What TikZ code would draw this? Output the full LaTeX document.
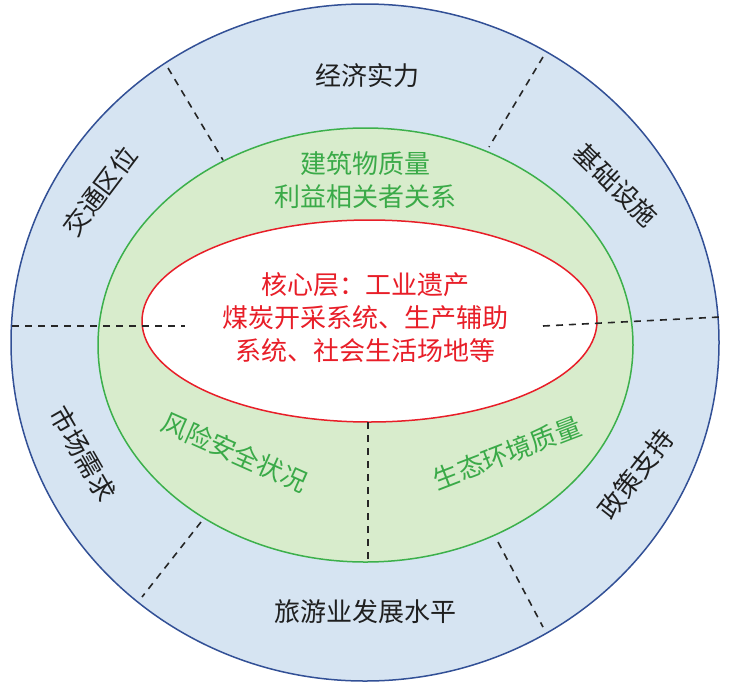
\documentclass[tikz,border=0pt]{standalone}
\usepackage{fontspec}
\setmainfont{Noto Sans CJK SC}
\definecolor{ringblue}{RGB}{214,228,242}
\definecolor{lineblue}{RGB}{50,80,150}
\definecolor{ringgreen}{RGB}{216,236,204}
\definecolor{linegreen}{RGB}{60,176,75}
\definecolor{txtgreen}{RGB}{58,170,72}
\definecolor{linered}{RGB}{232,30,40}
\begin{document}
\begin{tikzpicture}[x=1pt,y=-1pt]
    \useasboundingbox (0,0) rectangle (730,694);
    \tikzstyle{every node}=[font=\fontsize{26}{33}\selectfont,inner sep=0pt]
    \tikzstyle{cut}=[draw=black!85,line width=1.6pt,dash pattern=on 7pt off 6pt]
    \tikzstyle{outer}=[text=black!88]
    \tikzstyle{middle}=[text=txtgreen]

    % layers
    \filldraw[fill=ringblue,draw=lineblue,line width=1.5pt] (365,342.5) ellipse [x radius=354pt, y radius=338.5pt];
    \filldraw[fill=ringgreen,draw=linegreen,line width=1.5pt] (365.5,345) ellipse [x radius=267.5pt, y radius=217pt];
    \filldraw[fill=white,draw=linered,line width=1.5pt] (369.5,321) ellipse [x radius=227.5pt, y radius=101pt];

    % end points of the cuts
    \coordinate (l1) at (12,326);   \coordinate (l2) at (185,326);
    \coordinate (r1) at (543,326);  \coordinate (r2) at (720,317);
    \coordinate (v1) at (368,422);  \coordinate (v2) at (368,562);
    \coordinate (ul1) at (168,68);  \coordinate (ul2) at (223,160);
    \coordinate (ur1) at (543,57);  \coordinate (ur2) at (489,147);
    \coordinate (dl1) at (201,522); \coordinate (dl2) at (142,597);
    \coordinate (dr1) at (498,542); \coordinate (dr2) at (543,627);
    \foreach \a in {l,r,v,ul,ur,dl,dr}
      \draw[cut] (\a1) -- (\a2);

    % outer ring
    \node[outer] (economy) at (367,76) {经济实力};
    \node[outer,rotate=-44] (infra) at (616,185) {基础设施};
    \node[outer,rotate=52] (policy) at (636,474) {政策支持};
    \node[outer] (tourism) at (365,612) {旅游业发展水平};
    \node[outer,rotate=-60] (market) at (83,454) {市场需求};
    \node[outer,rotate=53] (traffic) at (100,191) {交通区位};

    % middle ring
    \node[middle,align=center] (building) at (365,180) {建筑物质量\\利益相关者关系};
    \node[middle,rotate=-24] (risk) at (235,452) {风险安全状况};
    \node[middle,rotate=21] (eco) at (507,453) {生态环境质量};

    % core
    \node[text=linered,align=center] (core) at (365,318) {核心层：工业遗产\\煤炭开采系统、生产辅助\\系统、社会生活场地等};
\end{tikzpicture}
\end{document}
